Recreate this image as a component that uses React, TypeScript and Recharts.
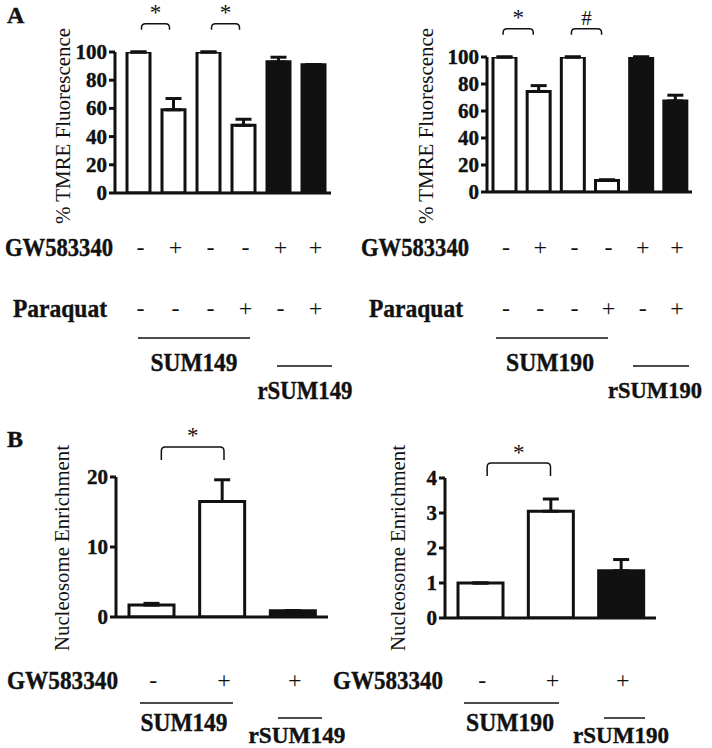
import React from 'react';
import { Bar, BarChart, Cell, ErrorBar, ReferenceLine, XAxis, YAxis } from 'recharts';

// panel A: % TMRE fluorescence
const tmreCats = ['1', '2', '3', '4', '5', '6'];
const tmreGw = ['-', '+', '-', '-', '+', '+'];
const tmreParaquat = ['-', '-', '-', '+', '-', '+'];
const tmreLine = ['parental', 'parental', 'parental', 'parental', 'resistant', 'resistant'];
const sum149Tmre = [100, 59, 100, 48, 93, 91];
const sum149TmreErr = [0, 8, 0, 4.3, 3.3, 0];
const sum190Tmre = [100, 74.5, 100, 8.5, 100, 67.5];
const sum190TmreErr = [0, 4.3, 0, 0.6, 0, 4.2];
const tmreTicks = [0, 20, 40, 60, 80, 100];

// panel B: nucleosome enrichment
const nucCats = ['1', '2', '3'];
const nucGw = ['-', '+', '+'];
const nucLine = ['parental', 'parental', 'resistant'];
const sum149Nuc = [1.7, 16.5, 0.9];
const sum149NucErr = [0.25, 3.1, 0];
const sum190Nuc = [1.0, 3.05, 1.35];
const sum190NucErr = [0, 0.35, 0.32];
const sum149NucTicks = [0, 10, 20];
const sum190NucTicks = [0, 1, 2, 3, 4];

const INK = '#111';
const FONT = "'Liberation Serif', 'Times New Roman', serif";

function buildRows(cats: string[], vals: number[], errs: number[], line: string[]) {
  return cats.map((c, i) => ({ cat: c, value: vals[i], err: [0, errs[i]], line: line[i] }));
}

function SignTick(props: any) {
  const { x, y, payload, rows, offsets } = props;
  const i = payload.index;
  return (
    <g>
      {rows.map((r: string[], k: number) => (
        <text
          key={k}
          x={x + 2}
          y={y + offsets[k]}
          textAnchor="middle"
          dominantBaseline="central"
          fontFamily={FONT}
          fontSize={24}
          fill={INK}
        >
          {r[i]}
        </text>
      ))}
    </g>
  );
}

function ValueTick(props: any) {
  const { x, y, payload } = props;
  return (
    <text
      x={x}
      y={y}
      textAnchor="end"
      dominantBaseline="central"
      fontFamily={FONT}
      fontSize={21}
      fontWeight="bold"
      fill={INK}
      stroke={INK}
      strokeWidth={0.4}
    >
      {payload.value}
    </text>
  );
}

function Bracket(props: any) {
  const { x1, x2, y1, mark, insetL, insetR, drop } = props;
  const a = x1 + insetL;
  const b = x2 - insetR;
  const y = y1;
  const r = 4;
  return (
    <g>
      <path
        d={`M${a},${y + drop} L${a},${y + r} Q${a},${y} ${a + r},${y} L${b - r},${y} Q${b},${y} ${b},${y + r} L${b},${y + drop}`}
        fill="none"
        stroke={INK}
        strokeWidth={1.5}
      />
      <text
        x={(a + b) / 2}
        y={y - 11}
        textAnchor="middle"
        dominantBaseline="central"
        fontFamily={FONT}
        fontSize={mark === '#' ? 21 : 23}
        fill={INK}
      >
        {mark}
      </text>
    </g>
  );
}

type Sig = { from: string; to: string; mark: string };

function Panel(props: {
  left: number;
  top: number;
  width: number;
  height: number;
  margin: any;
  yWidth: number;
  xHeight: number;
  xPad: number;
  data: any[];
  ticks: number[];
  barSize: number;
  rows: string[][];
  offsets: number[];
  sigs: Sig[];
  sigLevel: number;
  insets: [number, number];
  drop: number;
}) {
  const p = props;
  const max = p.ticks[p.ticks.length - 1];
  return (
    <div style={{ position: 'absolute', left: p.left, top: p.top }}>
      <BarChart width={p.width} height={p.height} data={p.data} margin={p.margin}>
        <XAxis
          dataKey="cat"
          height={p.xHeight}
          padding={{ left: p.xPad, right: 0 }}
          axisLine={{ stroke: INK, strokeWidth: 3 }}
          tickLine={false}
          tickSize={0}
          tickMargin={0}
          interval={0}
          tick={(t: any) => <SignTick {...t} rows={p.rows} offsets={p.offsets} />}
        />
        <YAxis
          width={p.yWidth}
          domain={[0, max]}
          ticks={p.ticks}
          interval={0}
          allowDataOverflow
          axisLine={{ stroke: INK, strokeWidth: 3 }}
          tickLine={{ stroke: INK, strokeWidth: 3 }}
          tickSize={6}
          tickMargin={2}
          tick={(t: any) => <ValueTick {...t} />}
        />
        <Bar dataKey="value" barSize={p.barSize} stroke={INK} strokeWidth={3} isAnimationActive={false}>
          {p.data.map((d, i) => (
            <Cell key={i} fill={d.line === 'resistant' ? INK : '#fff'} />
          ))}
          <ErrorBar dataKey="err" direction="y" width={8} stroke={INK} strokeWidth={3} isAnimationActive={false} />
        </Bar>
        {p.sigs.map((s, i) => (
          <ReferenceLine
            key={i}
            segment={[
              { x: s.from, y: max * p.sigLevel },
              { x: s.to, y: max * p.sigLevel },
            ]}
            ifOverflow="visible"
            shape={(sp: any) => (
              <Bracket {...sp} mark={s.mark} insetL={p.insets[0]} insetR={p.insets[1]} drop={p.drop} />
            )}
          />
        ))}
      </BarChart>
    </div>
  );
}

function Label(props: {
  x: number;
  y: number;
  children: any;
  size?: number;
  bold?: boolean;
  anchor?: string;
  rotate?: boolean;
  len?: number;
}) {
  const { x, y, size = 25, bold = true, anchor = 'start', rotate = false, len } = props;
  return (
    <text
      x={x}
      y={y}
      textAnchor={anchor as any}
      dominantBaseline="central"
      fontFamily={FONT}
      fontSize={size}
      fontWeight={bold ? 'bold' : 'normal'}
      fill={INK}
      stroke={bold ? INK : 'none'}
      strokeWidth={bold ? 0.4 : 0}
      textLength={len}
      lengthAdjust={len ? 'spacingAndGlyphs' : undefined}
      transform={rotate ? `rotate(-90 ${x} ${y})` : undefined}
    >
      {props.children}
    </text>
  );
}

function GroupLine(props: { x1: number; x2: number; y: number }) {
  return <line x1={props.x1} x2={props.x2} y1={props.y} y2={props.y} stroke={INK} strokeWidth={1.5} />;
}

export default function App() {
  const a149 = buildRows(tmreCats, sum149Tmre, sum149TmreErr, tmreLine);
  const a190 = buildRows(tmreCats, sum190Tmre, sum190TmreErr, tmreLine);
  const b149 = buildRows(nucCats, sum149Nuc, sum149NucErr, nucLine);
  const b190 = buildRows(nucCats, sum190Nuc, sum190NucErr, nucLine);
  const tmreSigs149: Sig[] = [
    { from: '1', to: '2', mark: '*' },
    { from: '3', to: '4', mark: '*' },
  ];
  const tmreSigs190: Sig[] = [
    { from: '1', to: '2', mark: '*' },
    { from: '3', to: '4', mark: '#' },
  ];
  const nucSigs: Sig[] = [{ from: '1', to: '2', mark: '*' }];

  return (
    <div style={{ position: 'absolute', left: 0, top: 0, width: 712, height: 748, background: '#fff', overflow: 'hidden' }}>
      <Panel
        left={0} top={0} width={340} height={325}
        margin={{ top: 52, right: 9, left: 0, bottom: 0 }}
        yWidth={115} xHeight={132} xPad={6}
        data={a149} ticks={tmreTicks} barSize={23}
        rows={[tmreGw, tmreParaquat]} offsets={[54, 115]}
        sigs={tmreSigs149} sigLevel={1.2} insets={[3, 4]} drop={6}
      />
      <Panel
        left={340} top={0} width={360} height={325}
        margin={{ top: 57, right: 8, left: 0, bottom: 0 }}
        yWidth={147} xHeight={133} xPad={0}
        data={a190} ticks={tmreTicks} barSize={23}
        rows={[tmreGw, tmreParaquat]} offsets={[55, 116]}
        sigs={tmreSigs190} sigLevel={1.21} insets={[-1, 5]} drop={6}
      />
      <Panel
        left={0} top={400} width={340} height={348}
        margin={{ top: 77, right: 12, left: 0, bottom: 0 }}
        yWidth={116} xHeight={131} xPad={0}
        data={b149} ticks={sum149NucTicks} barSize={45}
        rows={[nucGw]} offsets={[63]}
        sigs={nucSigs} sigLevel={1.215} insets={[10, -2]} drop={13}
      />
      <Panel
        left={340} top={400} width={360} height={348}
        margin={{ top: 78, right: 44, left: 0, bottom: 0 }}
        yWidth={105} xHeight={130} xPad={0}
        data={b190} ticks={sum190NucTicks} barSize={45}
        rows={[nucGw]} offsets={[62]}
        sigs={nucSigs} sigLevel={1.107} insets={[7, 0]} drop={13}
      />
      <svg width={712} height={748} style={{ position: 'absolute', left: 0, top: 0, pointerEvents: 'none' }}>
        <Label x={7} y={15} size={24}>A</Label>
        <Label x={7} y={439} size={24}>B</Label>

        <Label x={63} y={126} size={21} bold={false} anchor="middle" rotate len={196}>% TMRE Fluorescence</Label>
        <Label x={426} y={126} size={21} bold={false} anchor="middle" rotate len={196}>% TMRE Fluorescence</Label>
        <Label x={62} y={548} size={21} bold={false} anchor="middle" rotate len={206}>Nucleosome Enrichment</Label>
        <Label x={398} y={548} size={21} bold={false} anchor="middle" rotate len={206}>Nucleosome Enrichment</Label>

        <Label x={5} y={247} len={108}>GW583340</Label>
        <Label x={361} y={247} len={108}>GW583340</Label>
        <Label x={13} y={308} len={94}>Paraquat</Label>
        <Label x={369} y={308} len={94}>Paraquat</Label>

        <GroupLine x1={138} x2={250} y={338} />
        <Label x={194} y={362} anchor="middle" len={87}>SUM149</Label>
        <GroupLine x1={277} x2={332} y={366} />
        <Label x={305} y={390} anchor="middle" len={95}>rSUM149</Label>
        <GroupLine x1={496} x2={608} y={338} />
        <Label x={550} y={362} anchor="middle" len={88}>SUM190</Label>
        <GroupLine x1={633} x2={689} y={366} />
        <Label x={655} y={390} size={23} anchor="middle" len={94}>rSUM190</Label>

        <Label x={7} y={680} len={111}>GW583340</Label>
        <Label x={333} y={680} len={110}>GW583340</Label>
        <GroupLine x1={140} x2={233} y={703} />
        <Label x={184} y={722} anchor="middle" len={87}>SUM149</Label>
        <GroupLine x1={278} x2={322} y={718} />
        <Label x={297} y={735} size={23} anchor="middle" len={97}>rSUM149</Label>
        <GroupLine x1={464} x2={559} y={703} />
        <Label x={510} y={722} anchor="middle" len={88}>SUM190</Label>
        <GroupLine x1={604} x2={645} y={718} />
        <Label x={621} y={735} size={23} anchor="middle" len={96}>rSUM190</Label>
      </svg>
    </div>
  );
}
